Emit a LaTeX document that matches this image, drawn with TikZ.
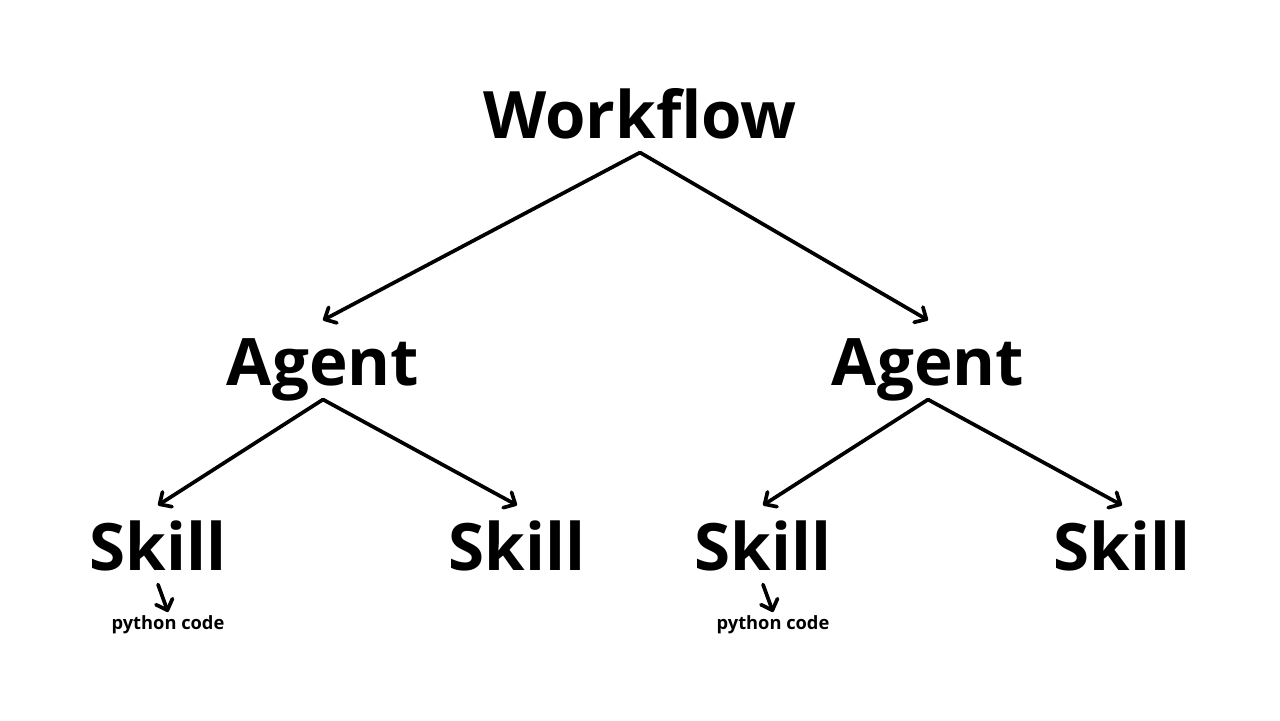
\documentclass[tikz,border=0pt]{standalone}
\usepackage{fontspec}
\setmainfont{Open Sans}
\usetikzlibrary{arrows.meta}
\tikzset{
  big/.style={font=\bfseries\fontsize{18.6}{22}\selectfont, inner sep=0pt, text height=14.3pt, text depth=0pt, outer xsep=0pt, outer ysep=0.145cm, anchor=base},
  small/.style={font=\bfseries\fontsize{5.2}{6}\selectfont, inner sep=0pt, text height=3.7pt, text depth=0pt, outer xsep=0pt, outer ysep=0.04cm, anchor=base},
  arr/.style={draw=black, line width=1.05pt, line cap=round, -{Straight Barb[length=2.6pt,width=5pt,line width=1.05pt,round]}}
}
\begin{document}
\begin{tikzpicture}[x=0.01cm,y=-0.01cm]
\useasboundingbox[fill=white] (0,0) rectangle (1280,720);
\node[big] (wf) at (640,138) {Workflow};
\node[big] (a1) at (323,385) {Agent};
\node[big] (a2) at (928,385) {Agent};
\node[big] (s1) at (158,570) {Skill};
\node[big] (s2) at (517,570) {Skill};
\node[big] (s3) at (763,570) {Skill};
\node[big] (s4) at (1122,570) {Skill};
\node[small] (p1) at (168,629) {python code};
\node[small] (p3) at (773,629) {python code};
\draw[arr] (wf.south) -- (a1.north);
\draw[arr] (wf.south) -- (a2.north);
\draw[arr] (a1.south) -- (s1.north);
\draw[arr] (a1.south) -- (s2.north);
\draw[arr] (a2.south) -- (s3.north);
\draw[arr] (a2.south) -- (s4.north);
\draw[arr] (s1.south) -- (p1.north);
\draw[arr] (s3.south) -- (p3.north);
\end{tikzpicture}
\end{document}
